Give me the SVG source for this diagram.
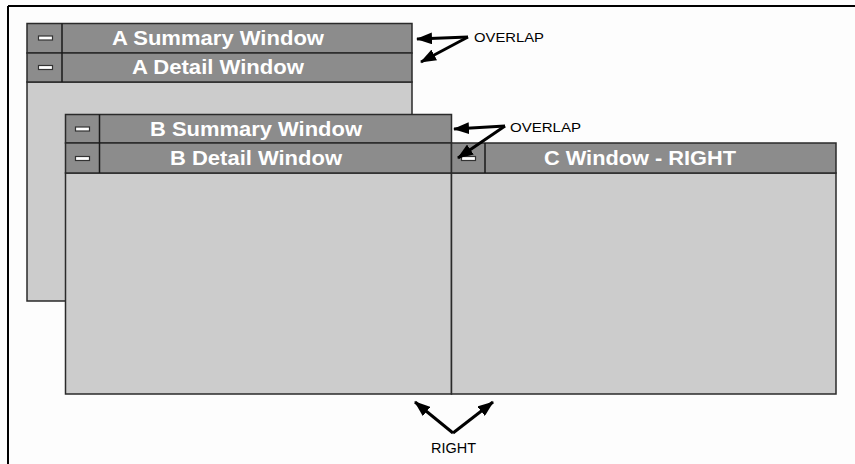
<svg xmlns="http://www.w3.org/2000/svg" width="855" height="464" viewBox="0 0 855 464">
<style>
.bar{fill:#8c8c8c;stroke:#2a2a2a;stroke-width:1.5}
.body{fill:#cccccc;stroke:#2a2a2a;stroke-width:1.5}
.sep{stroke:#1a1a1a;stroke-width:1.5}
.btn{fill:#ffffff;stroke:#333333;stroke-width:1.2}
.title{font-family:"Liberation Sans",Arial,sans-serif;font-weight:bold;font-size:21px;fill:#ffffff;text-anchor:middle}
.lbl{font-family:"Liberation Sans",Arial,sans-serif;font-size:13px;fill:#000000}
.arr{stroke:#000000;stroke-width:3;fill:none;marker-end:url(#ah)}
</style>
<defs>
<marker id="ah" viewBox="0 0 16 12" refX="15" refY="6" markerWidth="16" markerHeight="12" markerUnits="userSpaceOnUse" orient="auto">
<path d="M0,0 L16,6 L0,12 z" fill="#000000"/>
</marker>
</defs>
<rect x="0" y="0" width="855" height="464" fill="#fdfdfd"/>
<g id="frame">
<line x1="8" y1="6" x2="855" y2="6" stroke="#000" stroke-width="2"/>
<line x1="8" y1="6" x2="8" y2="464" stroke="#000" stroke-width="2"/>
</g>
<g id="windowA">
<rect class="body" x="27" y="82" width="385" height="219"/>
<rect class="bar" x="27" y="23.5" width="385" height="29.5"/>
<rect class="bar" x="27" y="53" width="385" height="29"/>
<line class="sep" x1="62" y1="23.5" x2="62" y2="82"/>
<rect class="btn" x="38.5" y="36" width="14" height="4"/>
<rect class="btn" x="38.5" y="65.5" width="14" height="4"/>
<text class="title" x="218" y="45" textLength="212" lengthAdjust="spacingAndGlyphs">A Summary Window</text>
<text class="title" x="218" y="74" textLength="172" lengthAdjust="spacingAndGlyphs">A Detail Window</text>
</g>
<g id="windowB">
<rect class="body" x="65.5" y="173" width="386" height="221"/>
<rect class="bar" x="65.5" y="114.5" width="386" height="28.5"/>
<rect class="bar" x="65.5" y="143" width="386" height="30"/>
<line class="sep" x1="99.5" y1="114.5" x2="99.5" y2="173"/>
<rect class="btn" x="75.5" y="127" width="14" height="4"/>
<rect class="btn" x="75.5" y="156.5" width="14" height="4"/>
<text class="title" x="256" y="136" textLength="212" lengthAdjust="spacingAndGlyphs">B Summary Window</text>
<text class="title" x="256" y="165" textLength="172" lengthAdjust="spacingAndGlyphs">B Detail Window</text>
</g>
<g id="windowC">
<rect class="body" x="451.5" y="173" width="384.5" height="221"/>
<rect class="bar" x="451.5" y="143" width="384.5" height="30"/>
<line class="sep" x1="485" y1="143" x2="485" y2="173"/>
<rect class="btn" x="461.5" y="156.5" width="14" height="4"/>
<text class="title" x="640" y="165" textLength="192" lengthAdjust="spacingAndGlyphs">C Window - RIGHT</text>
</g>
<g id="connectors">
<line class="arr" x1="468" y1="37" x2="417" y2="39"/>
<line class="arr" x1="468" y1="37" x2="421" y2="62"/>
<line class="arr" x1="505" y1="126" x2="454" y2="129"/>
<line class="arr" x1="505" y1="126" x2="458" y2="158"/>
<line class="arr" x1="453" y1="433" x2="415" y2="402"/>
<line class="arr" x1="453" y1="433" x2="493" y2="402"/>
</g>
<g id="labels">
<text class="lbl" x="474" y="42" textLength="70" lengthAdjust="spacingAndGlyphs">OVERLAP</text>
<text class="lbl" x="510" y="132" textLength="71" lengthAdjust="spacingAndGlyphs">OVERLAP</text>
<text class="lbl" x="431" y="453" textLength="45" lengthAdjust="spacingAndGlyphs" style="font-size:14px">RIGHT</text>
</g>
</svg>
